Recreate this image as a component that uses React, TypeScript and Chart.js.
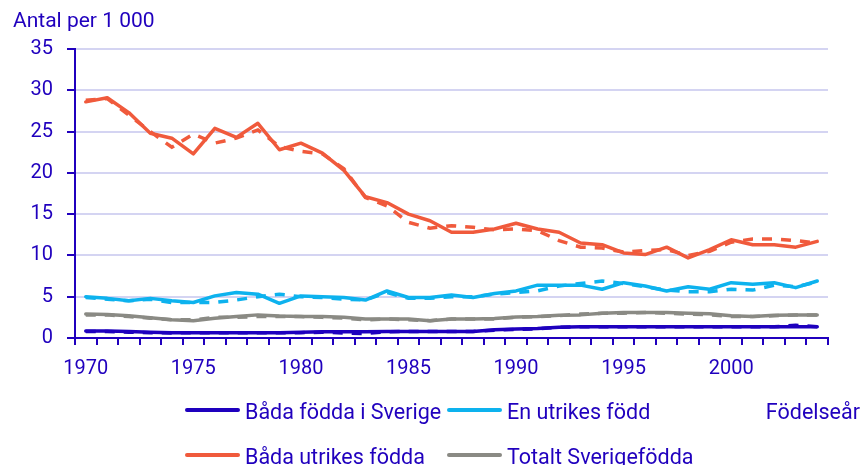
import React, { useEffect, useRef } from 'react';
import { Chart, registerables } from 'chart.js';

Chart.register(...registerables);

// ---------- data ----------
const years = [
  '1970', '1971', '1972', '1973', '1974', '1975', '1976', '1977', '1978', '1979',
  '1980', '1981', '1982', '1983', '1984', '1985', '1986', '1987', '1988', '1989',
  '1990', '1991', '1992', '1993', '1994', '1995', '1996', '1997', '1998', '1999',
  '2000', '2001', '2002', '2003', '2004',
];
const labelledYears = ['1970', '1975', '1980', '1985', '1990', '1995', '2000'];

const yTitle = 'Antal per 1 000';
const xTitle = 'Födelseår';

const seriesNames = ['Båda födda i Sverige', 'En utrikes född', 'Båda utrikes födda', 'Totalt Sverigefödda'];

const badaSverige = [
  0.85, 0.85, 0.8, 0.7, 0.65, 0.65, 0.65, 0.65, 0.65, 0.65,
  0.7, 0.75, 0.75, 0.75, 0.8, 0.8, 0.8, 0.8, 0.8, 1.0,
  1.1, 1.15, 1.3, 1.35, 1.35, 1.35, 1.35, 1.35, 1.35, 1.35,
  1.35, 1.35, 1.35, 1.35, 1.35,
];
const badaSverigeAlt = [
  0.8, 0.8, 0.7, 0.65, 0.6, 0.65, 0.65, 0.65, 0.65, 0.65,
  0.65, 0.7, 0.6, 0.55, 0.75, 0.8, 0.8, 0.8, 0.8, 0.95,
  1.05, 1.1, 1.3, 1.35, 1.35, 1.35, 1.35, 1.35, 1.35, 1.35,
  1.35, 1.35, 1.35, 1.55, 1.35,
];

const enUtrikes = [
  5.0, 4.8, 4.5, 4.8, 4.5, 4.3, 5.1, 5.5, 5.3, 4.2,
  5.1, 5.0, 4.9, 4.6, 5.7, 4.9, 4.9, 5.2, 4.9, 5.4,
  5.7, 6.4, 6.4, 6.4, 5.9, 6.7, 6.3, 5.7, 6.2, 5.9,
  6.7, 6.5, 6.7, 6.1, 6.9,
];
const enUtrikesAlt = [
  4.9, 4.7, 4.5, 4.7, 4.3, 4.3, 4.3, 4.6, 5.0, 5.3,
  5.0, 4.9, 4.7, 4.6, 5.5, 4.8, 4.8, 5.0, 5.0, 5.3,
  5.5, 5.7, 6.3, 6.6, 6.9, 6.6, 6.2, 5.8, 5.6, 5.6,
  5.9, 5.8, 6.4, 6.2, 6.8,
];

const badaUtrikes = [
  28.6, 29.1, 27.3, 24.8, 24.2, 22.3, 25.4, 24.3, 26.0, 22.8,
  23.6, 22.4, 20.3, 17.1, 16.4, 15.0, 14.2, 12.8, 12.8, 13.2,
  13.9, 13.2, 12.8, 11.5, 11.3, 10.3, 10.1, 11.0, 9.7, 10.7,
  11.9, 11.3, 11.3, 11.0, 11.7,
];
const badaUtrikesAlt = [
  28.8, 29.0, 27.0, 25.0, 23.1, 24.7, 23.6, 24.2, 25.2, 23.2,
  22.6, 22.3, 20.5, 17.0, 16.0, 14.0, 13.3, 13.6, 13.4, 13.1,
  13.2, 13.0, 11.8, 11.0, 10.9, 10.4, 10.6, 10.7, 10.0, 10.5,
  11.6, 12.0, 12.0, 11.8, 11.5,
];

const totaltSverige = [
  2.9, 2.85, 2.7, 2.45, 2.2, 2.1, 2.4, 2.6, 2.8, 2.65,
  2.6, 2.6, 2.5, 2.3, 2.3, 2.3, 2.1, 2.3, 2.3, 2.35,
  2.55, 2.6, 2.75, 2.8, 3.0, 3.1, 3.1, 3.1, 3.0, 2.95,
  2.7, 2.6, 2.75, 2.8, 2.8,
];
const totaltSverigeAlt = [
  2.8, 2.8, 2.6, 2.4, 2.2, 2.2, 2.5, 2.5, 2.6, 2.6,
  2.6, 2.5, 2.4, 2.2, 2.3, 2.2, 2.1, 2.3, 2.3, 2.3,
  2.5, 2.6, 2.7, 2.9, 3.0, 3.0, 3.1, 3.0, 2.9, 2.8,
  2.6, 2.6, 2.7, 2.8, 2.8,
];

// ---------- styles ----------
const TEXT = '#2000be';
const AXIS = '#2000be';
const GRID = '#d4d4f2';
const COLORS = ['#1e00be', '#0db2ee', '#f05a3c', '#8a8a84'];
const FONT = 'Roboto';

export default function App() {
  const ref = useRef<HTMLCanvasElement>(null);

  useEffect(() => {
    const solid = [badaSverige, enUtrikes, badaUtrikes, totaltSverige];
    const alt = [badaSverigeAlt, enUtrikesAlt, badaUtrikesAlt, totaltSverigeAlt];
    const datasets: any[] = [];
    alt.forEach((d, i) => {
      datasets.push({
        label: seriesNames[i] + ' (alt)',
        data: d,
        borderColor: COLORS[i],
        borderWidth: 3.5,
        borderDash: [10, 9],
        borderCapStyle: 'butt',
        pointRadius: 0,
        tension: 0,
        fill: false,
      });
    });
    solid.forEach((d, i) => {
      datasets.push({
        label: seriesNames[i],
        data: d,
        borderColor: COLORS[i],
        borderWidth: 3.5,
        borderJoinStyle: 'round',
        borderCapStyle: 'round',
        pointRadius: 0,
        tension: 0,
        fill: false,
      });
    });

    const chart = new Chart(ref.current as HTMLCanvasElement, {
      type: 'line',
      data: { labels: years, datasets },
      options: {
        animation: false,
        responsive: false,
        maintainAspectRatio: false,
        layout: { padding: { top: 49, right: 35, left: 0, bottom: 0 } },
        plugins: { legend: { display: false }, tooltip: { enabled: false }, title: { display: false } },
        scales: {
          x: {
            type: 'category',
            offset: true,
            grid: {
              offset: true,
              drawOnChartArea: false,
              drawTicks: true,
              tickLength: 7,
              tickColor: AXIS,
              lineWidth: 2,
            },
            border: { color: AXIS, width: 2 },
            ticks: {
              autoSkip: false,
              maxRotation: 0,
              minRotation: 0,
              padding: 12,
              color: TEXT,
              font: { family: FONT, size: 20 },
              callback: (_v: any, i: number) => (labelledYears.includes(years[i]) ? years[i] : ''),
            },
            afterFit: (s: any) => {
              s.height = 127;
            },
          },
          y: {
            min: 0,
            max: 35,
            ticks: { stepSize: 5, padding: 14, color: TEXT, font: { family: FONT, size: 20 } },
            grid: { color: GRID, lineWidth: 2, tickColor: AXIS, tickLength: 8 },
            border: { color: AXIS, width: 2 },
            afterFit: (s: any) => {
              s.width = 75;
            },
          },
        },
      },
    });
    return () => chart.destroy();
  }, []);

  // legend layout: column-major (Båda födda i Sverige / Båda utrikes födda in col 0)
  const legendCols = [185, 447];
  const legendRows = [410, 455];
  const placement = [
    { c: 0, r: 0 },
    { c: 1, r: 0 },
    { c: 0, r: 1 },
    { c: 1, r: 1 },
  ];
  const textStyle: React.CSSProperties = {
    position: 'absolute',
    fontFamily: FONT,
    fontSize: 21.5,
    lineHeight: '22px',
    color: TEXT,
    whiteSpace: 'nowrap',
  };

  return (
    <div style={{ position: 'fixed', left: 0, top: 0, width: 863, height: 465, background: '#fff', overflow: 'hidden' }}>
      <canvas ref={ref} width={863} height={465} style={{ position: 'absolute', left: 0, top: 0, width: 863, height: 465 }} />
      <div style={{ ...textStyle, left: 13, top: 10, fontSize: 21, lineHeight: '21px' }}>{yTitle}</div>
      {seriesNames.map((name, i) => {
        const { c, r } = placement[i];
        return (
          <React.Fragment key={name}>
            <div
              style={{
                position: 'absolute',
                left: legendCols[c],
                top: legendRows[r] - 2,
                width: 55,
                height: 4,
                borderRadius: 2,
                background: COLORS[i],
              }}
            />
            <div style={{ ...textStyle, left: legendCols[c] + 60, top: legendRows[r] - 9.5 }}>{name}</div>
          </React.Fragment>
        );
      })}
      <div style={{ ...textStyle, right: 3, top: legendRows[0] - 9.5 }}>{xTitle}</div>
    </div>
  );
}
